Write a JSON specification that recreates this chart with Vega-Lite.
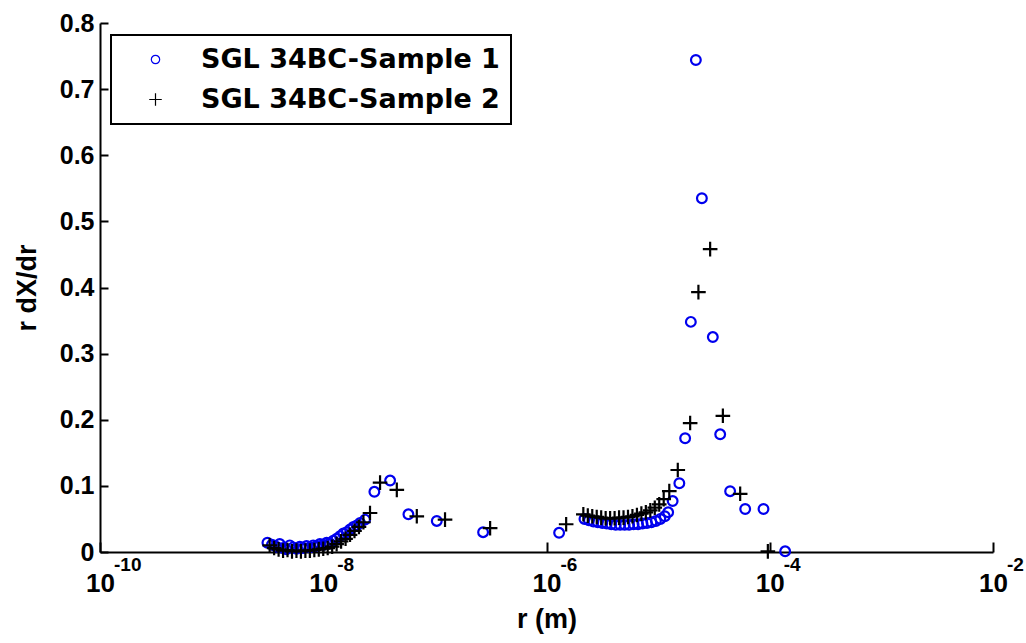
{
  "$schema": "https://vega.github.io/schema/vega-lite/v6.json",
  "width": 893,
  "height": 529,
  "autosize": {"type": "none"},
  "padding": {"left": 100, "top": 23, "right": 33, "bottom": 91},
  "background": "white",
  "config": {
    "view": {"stroke": null},
    "axis": {
      "grid": false,
      "domainColor": "black",
      "tickColor": "black",
      "labelColor": "black",
      "titleColor": "black",
      "domainWidth": 2,
      "tickWidth": 2,
      "labelFont": "Liberation Sans",
      "labelFontWeight": "bold",
      "titleFont": "Liberation Sans",
      "titleFontWeight": "bold"
    },
    "legend": {"strokeWidth": 2}
  },
  "layer": [
    {
      "data": {
        "values": [
          {"s": "1", "r": 3.162e-9, "v": 0.014},
          {"s": "1", "r": 3.467e-9, "v": 0.011},
          {"s": "1", "r": 3.802e-9, "v": 0.008},
          {"s": "1", "r": 4.074e-9, "v": 0.012},
          {"s": "1", "r": 4.365e-9, "v": 0.006},
          {"s": "1", "r": 4.677e-9, "v": 0.004},
          {"s": "1", "r": 5.012e-9, "v": 0.010},
          {"s": "1", "r": 5.370e-9, "v": 0.007},
          {"s": "1", "r": 5.754e-9, "v": 0.005},
          {"s": "1", "r": 6.166e-9, "v": 0.008},
          {"s": "1", "r": 6.607e-9, "v": 0.006},
          {"s": "1", "r": 7.079e-9, "v": 0.009},
          {"s": "1", "r": 7.586e-9, "v": 0.007},
          {"s": "1", "r": 8.128e-9, "v": 0.010},
          {"s": "1", "r": 8.710e-9, "v": 0.009},
          {"s": "1", "r": 9.333e-9, "v": 0.012},
          {"s": "1", "r": 1.000e-8, "v": 0.011},
          {"s": "1", "r": 1.072e-8, "v": 0.014},
          {"s": "1", "r": 1.148e-8, "v": 0.013},
          {"s": "1", "r": 1.230e-8, "v": 0.017},
          {"s": "1", "r": 1.318e-8, "v": 0.020},
          {"s": "1", "r": 1.413e-8, "v": 0.024},
          {"s": "1", "r": 1.514e-8, "v": 0.028},
          {"s": "1", "r": 1.622e-8, "v": 0.030},
          {"s": "1", "r": 1.738e-8, "v": 0.034},
          {"s": "1", "r": 1.862e-8, "v": 0.038},
          {"s": "1", "r": 1.995e-8, "v": 0.040},
          {"s": "1", "r": 2.138e-8, "v": 0.044},
          {"s": "1", "r": 2.371e-8, "v": 0.049},
          {"s": "1", "r": 2.871e-8, "v": 0.091},
          {"s": "1", "r": 3.972e-8, "v": 0.108},
          {"s": "1", "r": 5.794e-8, "v": 0.057},
          {"s": "1", "r": 1.040e-7, "v": 0.047},
          {"s": "1", "r": 2.704e-7, "v": 0.030},
          {"s": "1", "r": 1.297e-6, "v": 0.029},
          {"s": "1", "r": 2.188e-6, "v": 0.050},
          {"s": "1", "r": 2.399e-6, "v": 0.048},
          {"s": "1", "r": 2.630e-6, "v": 0.046},
          {"s": "1", "r": 2.884e-6, "v": 0.045},
          {"s": "1", "r": 3.162e-6, "v": 0.044},
          {"s": "1", "r": 3.467e-6, "v": 0.043},
          {"s": "1", "r": 3.802e-6, "v": 0.042},
          {"s": "1", "r": 4.169e-6, "v": 0.041},
          {"s": "1", "r": 4.571e-6, "v": 0.041},
          {"s": "1", "r": 5.012e-6, "v": 0.041},
          {"s": "1", "r": 5.495e-6, "v": 0.041},
          {"s": "1", "r": 6.026e-6, "v": 0.042},
          {"s": "1", "r": 6.607e-6, "v": 0.042},
          {"s": "1", "r": 7.244e-6, "v": 0.043},
          {"s": "1", "r": 7.943e-6, "v": 0.044},
          {"s": "1", "r": 8.710e-6, "v": 0.045},
          {"s": "1", "r": 9.550e-6, "v": 0.047},
          {"s": "1", "r": 1.047e-5, "v": 0.050},
          {"s": "1", "r": 1.148e-5, "v": 0.054},
          {"s": "1", "r": 1.230e-5, "v": 0.060},
          {"s": "1", "r": 1.349e-5, "v": 0.077},
          {"s": "1", "r": 1.549e-5, "v": 0.104},
          {"s": "1", "r": 1.746e-5, "v": 0.172},
          {"s": "1", "r": 1.963e-5, "v": 0.348},
          {"s": "1", "r": 2.178e-5, "v": 0.744},
          {"s": "1", "r": 2.466e-5, "v": 0.535},
          {"s": "1", "r": 3.090e-5, "v": 0.325},
          {"s": "1", "r": 3.597e-5, "v": 0.178},
          {"s": "1", "r": 4.416e-5, "v": 0.092},
          {"s": "1", "r": 6.026e-5, "v": 0.065},
          {"s": "1", "r": 8.790e-5, "v": 0.065},
          {"s": "1", "r": 1.374e-4, "v": 0.001},
          {"s": "2", "r": 3.311e-9, "v": 0.010},
          {"s": "2", "r": 3.631e-9, "v": 0.006},
          {"s": "2", "r": 3.981e-9, "v": 0.004},
          {"s": "2", "r": 4.365e-9, "v": 0.002},
          {"s": "2", "r": 4.786e-9, "v": 0.003},
          {"s": "2", "r": 5.248e-9, "v": 0.001},
          {"s": "2", "r": 5.754e-9, "v": 0.002},
          {"s": "2", "r": 6.310e-9, "v": 0.001},
          {"s": "2", "r": 6.918e-9, "v": 0.002},
          {"s": "2", "r": 7.586e-9, "v": 0.002},
          {"s": "2", "r": 8.318e-9, "v": 0.003},
          {"s": "2", "r": 9.120e-9, "v": 0.004},
          {"s": "2", "r": 1.000e-8, "v": 0.005},
          {"s": "2", "r": 1.096e-8, "v": 0.006},
          {"s": "2", "r": 1.202e-8, "v": 0.008},
          {"s": "2", "r": 1.318e-8, "v": 0.012},
          {"s": "2", "r": 1.445e-8, "v": 0.016},
          {"s": "2", "r": 1.585e-8, "v": 0.020},
          {"s": "2", "r": 1.738e-8, "v": 0.026},
          {"s": "2", "r": 1.905e-8, "v": 0.032},
          {"s": "2", "r": 2.089e-8, "v": 0.038},
          {"s": "2", "r": 2.291e-8, "v": 0.045},
          {"s": "2", "r": 2.624e-8, "v": 0.059},
          {"s": "2", "r": 3.228e-8, "v": 0.105},
          {"s": "2", "r": 4.560e-8, "v": 0.094},
          {"s": "2", "r": 6.887e-8, "v": 0.054},
          {"s": "2", "r": 1.233e-7, "v": 0.049},
          {"s": "2", "r": 3.126e-7, "v": 0.036},
          {"s": "2", "r": 1.500e-6, "v": 0.042},
          {"s": "2", "r": 2.138e-6, "v": 0.057},
          {"s": "2", "r": 2.344e-6, "v": 0.055},
          {"s": "2", "r": 2.570e-6, "v": 0.054},
          {"s": "2", "r": 2.818e-6, "v": 0.053},
          {"s": "2", "r": 3.090e-6, "v": 0.052},
          {"s": "2", "r": 3.388e-6, "v": 0.051},
          {"s": "2", "r": 3.715e-6, "v": 0.051},
          {"s": "2", "r": 4.074e-6, "v": 0.051},
          {"s": "2", "r": 4.467e-6, "v": 0.052},
          {"s": "2", "r": 4.898e-6, "v": 0.052},
          {"s": "2", "r": 5.370e-6, "v": 0.053},
          {"s": "2", "r": 5.888e-6, "v": 0.054},
          {"s": "2", "r": 6.457e-6, "v": 0.056},
          {"s": "2", "r": 7.079e-6, "v": 0.058},
          {"s": "2", "r": 7.762e-6, "v": 0.060},
          {"s": "2", "r": 8.511e-6, "v": 0.063},
          {"s": "2", "r": 9.333e-6, "v": 0.067},
          {"s": "2", "r": 1.023e-5, "v": 0.072},
          {"s": "2", "r": 1.122e-5, "v": 0.080},
          {"s": "2", "r": 1.259e-5, "v": 0.092},
          {"s": "2", "r": 1.500e-5, "v": 0.124},
          {"s": "2", "r": 1.936e-5, "v": 0.195},
          {"s": "2", "r": 2.296e-5, "v": 0.393},
          {"s": "2", "r": 2.924e-5, "v": 0.458},
          {"s": "2", "r": 3.802e-5, "v": 0.206},
          {"s": "2", "r": 5.433e-5, "v": 0.088},
          {"s": "2", "r": 9.616e-5, "v": 0.001}
        ]
      },
      "mark": {"type": "point", "filled": false, "size": 95, "strokeWidth": 2.2, "opacity": 1},
      "encoding": {
        "x": {
          "field": "r",
          "type": "quantitative",
          "scale": {"type": "log", "domain": [1e-10, 1e-2], "nice": false},
          "axis": {
            "values": [1e-10, 1e-8, 1e-6, 1e-4, 1e-2],
            "labelExpr": "'10'",
            "labelFontSize": 26,
            "labelPadding": 28,
            "labelFlush": false,
            "tickSize": -10,
            "title": "r (m)",
            "titleFontSize": 27,
            "titlePadding": 10
          }
        },
        "y": {
          "field": "v",
          "type": "quantitative",
          "scale": {"domain": [0, 0.8], "nice": false},
          "axis": {
            "values": [0, 0.1, 0.2, 0.3, 0.4, 0.5, 0.6, 0.7, 0.8],
            "labelExpr": "datum.value == 0 ? '0' : format(datum.value, '.1f')",
            "labelFontSize": 25,
            "labelPadding": 14,
            "tickSize": -8,
            "title": "r dX/dr",
            "titleFontSize": 27,
            "titlePadding": 18
          }
        },
        "shape": {
          "field": "s",
          "type": "nominal",
          "scale": {"domain": ["1", "2"], "range": ["circle", "M-1.5,0L1.5,0M0,-1.5L0,1.5"]},
          "legend": {
            "title": null,
            "orient": "none",
            "legendX": 11,
            "legendY": 12,
            "labelExpr": "'SGL 34BC-Sample ' + datum.label",
            "labelFont": "DejaVu Sans",
            "labelFontWeight": "bold",
            "labelFontSize": 27,
            "labelColor": "black",
            "labelLimit": 500,
            "labelOffset": 32,
            "symbolOffset": 20,
            "symbolSize": 70,
            "symbolStrokeWidth": 1.2,
            "rowPadding": 12,
            "padding": 11,
            "strokeColor": "black",
            "fillColor": "white"
          }
        },
        "color": {
          "field": "s",
          "type": "nominal",
          "scale": {"domain": ["1", "2"], "range": ["#0000ee", "#000000"]},
          "legend": {
            "title": null,
            "orient": "none",
            "legendX": 11,
            "legendY": 12,
            "labelExpr": "'SGL 34BC-Sample ' + datum.label",
            "labelFont": "DejaVu Sans",
            "labelFontWeight": "bold",
            "labelFontSize": 27,
            "labelColor": "black",
            "labelLimit": 500,
            "labelOffset": 32,
            "symbolOffset": 20,
            "symbolSize": 70,
            "symbolStrokeWidth": 1.2,
            "rowPadding": 12,
            "padding": 11,
            "strokeColor": "black",
            "fillColor": "white"
          }
        }
      }
    },
    {
      "data": {
        "values": [
          {"r": 1e-10, "t": "-10"},
          {"r": 1e-8, "t": "-8"},
          {"r": 1e-6, "t": "-6"},
          {"r": 1e-4, "t": "-4"},
          {"r": 1e-2, "t": "-2"}
        ]
      },
      "mark": {
        "type": "text",
        "align": "left",
        "baseline": "middle",
        "dx": 14,
        "dy": 13,
        "font": "Liberation Sans",
        "fontWeight": "bold",
        "fontSize": 19,
        "color": "black"
      },
      "encoding": {
        "x": {"field": "r", "type": "quantitative"},
        "y": {"datum": 0, "type": "quantitative"},
        "text": {"field": "t", "type": "nominal"}
      }
    }
  ]
}
